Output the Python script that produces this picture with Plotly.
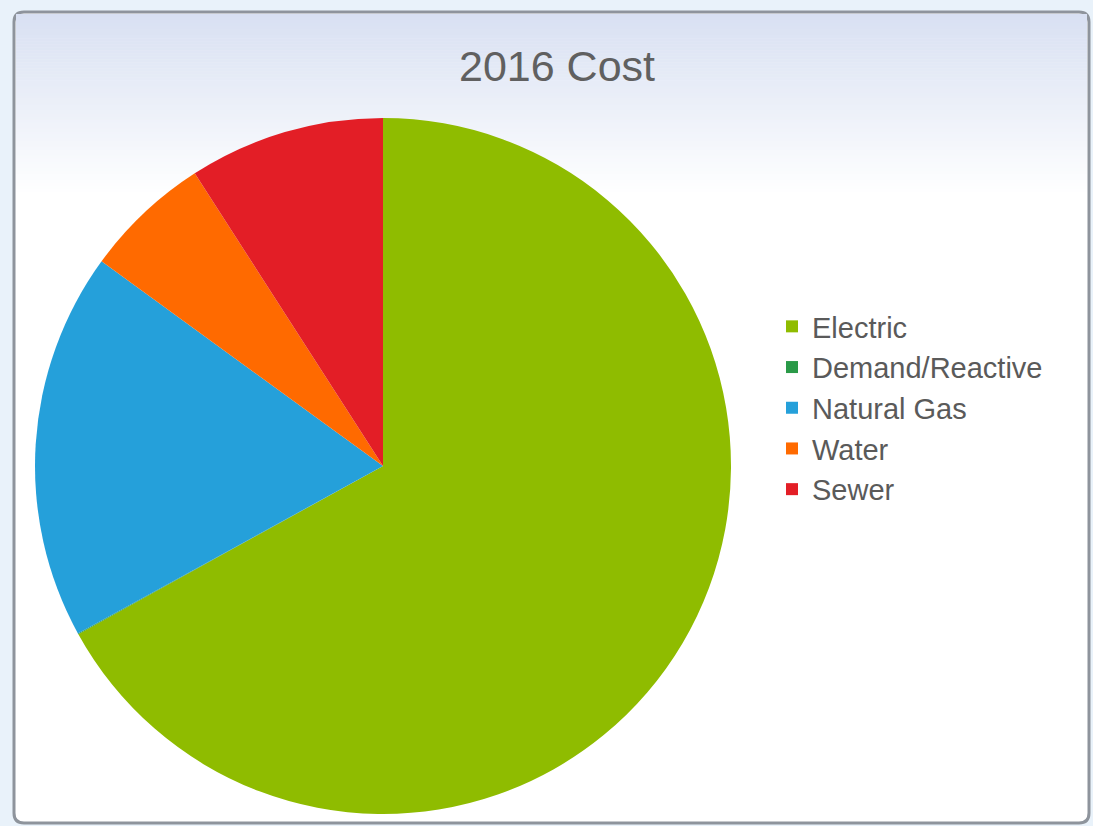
import plotly.graph_objects as go

labels = ["Electric", "Demand/Reactive", "Natural Gas", "Water", "Sewer"]
values = [67.0, 0.04, 18.0, 5.9, 9.1]
colors = ["#8fbc00", "#2a9a48", "#25a0da", "#ff6a00", "#e31e26"]
title_text = "2016 Cost"

W, H = 1093, 826


def px(x):
    return x / W


def py(y):
    return 1 - y / H


fig = go.Figure(go.Pie(
    labels=labels,
    values=values,
    marker=dict(colors=colors, line=dict(width=0)),
    sort=False,
    direction="clockwise",
    rotation=0,
    textinfo="none",
    hoverinfo="label+percent",
    domain=dict(x=[px(35), px(731)], y=[py(814), py(118)]),
))

shapes = []
# frame
L, T, R, B, r = 14, 12, 1089, 823, 10
path = (f"M{px(L + r)},{py(T)} L{px(R - r)},{py(T)} Q{px(R)},{py(T)} {px(R)},{py(T + r)} "
        f"L{px(R)},{py(B - r)} Q{px(R)},{py(B)} {px(R - r)},{py(B)} "
        f"L{px(L + r)},{py(B)} Q{px(L)},{py(B)} {px(L)},{py(B - r)} "
        f"L{px(L)},{py(T + r)} Q{px(L)},{py(T)} {px(L + r)},{py(T)} Z")
shapes.append(dict(type="path", path=path, xref="paper", yref="paper",
                   fillcolor="white", line=dict(color="#8e949c", width=3), layer="below"))
# top gradient strips
n = 60
top, bot = 14, 195
c0 = (216, 224, 242)
for i in range(n):
    y0 = top + (bot - top) * i / n
    y1 = top + (bot - top) * (i + 1) / n
    t = (i + 0.5) / n
    c = tuple(round(c0[k] + (255 - c0[k]) * t) for k in range(3))
    shapes.append(dict(type="rect", xref="paper", yref="paper",
                       x0=px(L + 2), x1=px(R - 2), y0=py(y1 + 0.5), y1=py(y0),
                       fillcolor=f"rgb{c}", line=dict(width=0), layer="below"))

fig.update_layout(
    width=W, height=H,
    margin=dict(l=0, r=0, t=0, b=0),
    paper_bgcolor="#e9f2fa",
    plot_bgcolor="rgba(0,0,0,0)",
    font=dict(family="Liberation Sans, Arial, sans-serif", color="#5a5a5a"),
    title=dict(text=title_text, x=px(557), xanchor="center", y=py(66), yanchor="middle",
               font=dict(size=43, color="#606060")),
    showlegend=True,
    legend=dict(x=px(772), xanchor="left", y=py(408), yanchor="middle",
                font=dict(size=29, color="#5a5a5a"), bgcolor="rgba(0,0,0,0)",
                itemclick=False, tracegroupgap=0),
    shapes=shapes,
)

fig.write_html("out.html")
